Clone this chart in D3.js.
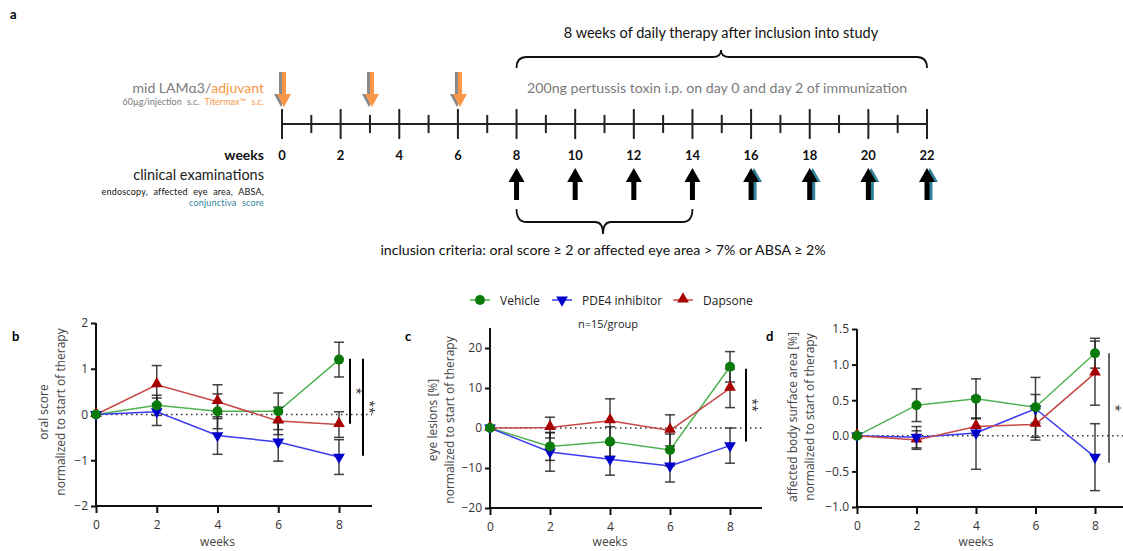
<!DOCTYPE html>
<html>
<head>
<meta charset="utf-8">
<script src="https://cdn.jsdelivr.net/npm/d3@7"></script>
<style>
  body { margin: 0; background: #fff; }
  svg { display: block; font-family: "Open Sans", sans-serif; }
  .tl { font-family: Lato, sans-serif; }
</style>
</head>
<body>
<div id="chart"></div>
<script>
// timeline (panel a)
var tlWeeks = d3.range(0, 23)
var tlLabels = [0, 2, 4, 6, 8, 10, 12, 14, 16, 18, 20, 22]
var immunWeeks = [0, 3, 6]
var examWeeks = [8, 10, 12, 14]
var examTealWeeks = [16, 18, 20, 22]

// panels b-d
var weeks = [0, 2, 4, 6, 8]
var groups = ["Vehicle", "PDE4 inhibitor", "Dapsone"]

var oralVehicle = [0, 0.2, 0.07, 0.07, 1.2]
var oralVehicleErr = [0, 0.22, 0.38, 0.4, 0.38]
var oralPde4 = [0, 0.06, -0.46, -0.6, -0.93]
var oralPde4Err = [0, 0.3, 0.41, 0.42, 0.38]
var oralDapsone = [0, 0.65, 0.28, -0.14, -0.22]
var oralDapsoneErr = [0, 0.42, 0.37, 0.3, 0.28]

var eyeVehicle = [0, -4.6, -3.4, -5.5, 15.3]
var eyeVehicleErr = [0, 3.5, 3.7, 4.0, 3.8]
var eyePde4 = [0, -6.0, -7.8, -9.5, -4.4]
var eyePde4Err = [0, 4.8, 4.0, 4.0, 4.4]
var eyeDapsone = [0, 0.1, 1.8, -0.6, 9.9]
var eyeDapsoneErr = [0, 2.6, 5.5, 3.9, 4.8]

var absaVehicle = [0, 0.43, 0.52, 0.40, 1.16]
var absaVehicleErr = [0, 0.23, 0.28, 0.42, 0.21]
var absaPde4 = [0, -0.02, 0.04, 0.38, -0.3]
var absaPde4Err = [0, 0.15, 0.51, 0.2, 0.47]
var absaDapsone = [0, -0.06, 0.13, 0.16, 0.88]
var absaDapsoneErr = [0, 0.13, 0.12, 0.22, 0.45]

var lineColors = ["#4fb24f", "#3b3bf0", "#c84848"]
var markColors = ["#0a7a0a", "#0000cc", "#a80000"]

var W = 1123, H = 551
var svg = d3.select("#chart").append("svg")
  .attr("width", W).attr("height", H)

// ---------- panel a ----------
var a = svg.append("g").attr("class", "tl")
var tx = d3.scaleLinear().domain([0, 22]).range([282, 927])
var axisY = 124

a.append("text").attr("x", 10).attr("y", 19).attr("font-weight", "bold")
  .attr("font-size", 13).text("a")

a.append("line").attr("x1", tx(0)).attr("x2", tx(22))
  .attr("y1", axisY).attr("y2", axisY)
  .attr("stroke", "#222").attr("stroke-width", 2)

a.selectAll(".tick").data(tlWeeks).enter().append("line")
  .attr("x1", d => tx(d)).attr("x2", d => tx(d))
  .attr("y1", d => d % 2 == 0 ? axisY - 15 : axisY - 9)
  .attr("y2", d => d % 2 == 0 ? axisY + 15 : axisY + 9)
  .attr("stroke", "#222").attr("stroke-width", 2)

a.selectAll(".wl").data(tlLabels).enter().append("text")
  .attr("x", d => tx(d)).attr("y", 160)
  .attr("text-anchor", "middle").attr("font-weight", "bold")
  .attr("font-size", 13).attr("fill", "#111").text(d => d)

a.append("text").attr("x", 264).attr("y", 160).attr("text-anchor", "end")
  .attr("font-weight", "bold").attr("font-size", 14).attr("fill", "#111").text("weeks")

// down arrows (immunization)
function downArrow(g, x, color) {
  g.append("path")
    .attr("d", "M" + (x - 2) + ",72 L" + (x + 2) + ",72 L" + (x + 2) + ",94 L" + (x + 7) + ",94 L" + x + ",107 L" + (x - 7) + ",94 L" + (x - 2) + ",94 Z")
    .attr("fill", color)
}
immunWeeks.forEach(w => {
  downArrow(a, tx(w) - 1, "#8a8a8a")
  downArrow(a, tx(w) + 2, "#f79646")
})
function upArrow(g, x, color) {
  g.append("path")
    .attr("d", "M" + (x - 2.5) + ",200 L" + (x + 2.5) + ",200 L" + (x + 2.5) + ",182 L" + (x + 8) + ",182 L" + x + ",168 L" + (x - 8) + ",182 L" + (x - 2.5) + ",182 Z")
    .attr("fill", color)
}
examTealWeeks.forEach(w => upArrow(a, tx(w) + 3, "#31849b"))
examWeeks.concat(examTealWeeks).forEach(w => upArrow(a, tx(w), "#000"))

var t1 = a.append("text").attr("x", 264).attr("y", 93).attr("text-anchor", "end").attr("font-size", 14)
t1.append("tspan").attr("fill", "#7a7a7a").text("mid LAMα3/")
t1.append("tspan").attr("fill", "#f79646").text("adjuvant")
var t2 = a.append("text").attr("x", 264).attr("y", 105).attr("text-anchor", "end")
  .attr("font-size", 9).attr("word-spacing", 3)
t2.append("tspan").attr("fill", "#7a7a7a").text("60µg/injection s.c. ")
t2.append("tspan").attr("fill", "#f79646").text("Titermax™ s.c.")

a.append("text").attr("x", 264).attr("y", 180).attr("text-anchor", "end")
  .attr("font-size", 14.5).attr("fill", "#222").text("clinical examinations")
a.append("text").attr("x", 264).attr("y", 195).attr("text-anchor", "end")
  .attr("font-size", 9).attr("word-spacing", 3).attr("letter-spacing", 0.2)
  .attr("fill", "#111").text("endoscopy,  affected eye area, ABSA,")
a.append("text").attr("x", 264).attr("y", 206).attr("text-anchor", "end")
  .attr("font-size", 9).attr("word-spacing", 3).attr("letter-spacing", 0.2)
  .attr("fill", "#31849b").text("conjunctiva score")

// braces
var bx0 = tx(8), bx1 = tx(22), bmid = 721
a.append("path")
  .attr("d", "M" + bx0 + ",68 Q" + bx0 + ",57 " + (bx0 + 10) + ",57 L" + (bmid - 8) + ",57 Q" + bmid + ",57 " + bmid + ",50 Q" + bmid + ",57 " + (bmid + 8) + ",57 L" + (bx1 - 10) + ",57 Q" + bx1 + ",57 " + bx1 + ",68")
  .attr("fill", "none").attr("stroke", "#111").attr("stroke-width", 1.8)
a.append("text").attr("x", bmid).attr("y", 38).attr("text-anchor", "middle")
  .attr("font-size", 14.5).attr("fill", "#111").text("8 weeks of daily therapy after inclusion into study")
a.append("text").attr("x", 527).attr("y", 93).attr("font-size", 14.2)
  .attr("fill", "#7a7a7a").text("200ng pertussis toxin i.p. on day 0 and day 2 of immunization")

var cx0 = tx(8), cx1 = tx(14), cmid = 603
a.append("path")
  .attr("d", "M" + cx0 + ",209 Q" + cx0 + ",222 " + (cx0 + 10) + ",222 L" + (cmid - 8) + ",222 Q" + cmid + ",222 " + cmid + ",234 Q" + cmid + ",222 " + (cmid + 8) + ",222 L" + (cx1 - 10) + ",222 Q" + cx1 + ",222 " + cx1 + ",209")
  .attr("fill", "none").attr("stroke", "#111").attr("stroke-width", 1.8)
a.append("text").attr("x", cmid).attr("y", 255).attr("text-anchor", "middle")
  .attr("font-size", 14.2).attr("fill", "#111")
  .text("inclusion criteria: oral score ≥ 2 or affected eye area > 7% or ABSA ≥ 2%")

// ---------- legend ----------
var legX = [480, 562, 683]
var leg = svg.append("g")
groups.forEach((gname, i) => {
  leg.append("line").attr("x1", legX[i] - 10).attr("x2", legX[i] + 10)
    .attr("y1", 300).attr("y2", 300).attr("stroke", lineColors[i]).attr("stroke-width", 1.5)
  marker(leg, i, legX[i], 300)
  leg.append("text").attr("x", legX[i] + 20).attr("y", 304.5).attr("font-size", 12)
    .attr("fill", "#222").text(gname)
})
svg.append("text").attr("x", 608).attr("y", 328).attr("text-anchor", "middle")
  .attr("font-size", 11).attr("fill", "#222").text("n=15/group")

function marker(g, i, x, y) {
  if (i == 0) {
    g.append("circle").attr("cx", x).attr("cy", y).attr("r", 5).attr("fill", markColors[0])
  } else if (i == 1) {
    g.append("path").attr("d", d3.symbol().type(d3.symbolTriangle).size(60))
      .attr("transform", "translate(" + x + "," + y + ") rotate(180)").attr("fill", markColors[1])
  } else {
    g.append("path").attr("d", d3.symbol().type(d3.symbolTriangle).size(60))
      .attr("transform", "translate(" + x + "," + (y - 1) + ")").attr("fill", markColors[2])
  }
}

// ---------- panels ----------
function panel(opt) {
  var g = svg.append("g")
  var x = d3.scaleLinear().domain([0, 8]).range([opt.x0, opt.x1])
  var y = d3.scaleLinear().domain(opt.domain).range([opt.yb, opt.yt])

  g.append("text").attr("x", opt.letterX).attr("y", 341).attr("font-weight", "bold")
    .attr("font-size", 13).attr("font-family", "Lato, sans-serif").text(opt.letter)

  // dotted zero line
  g.append("line").attr("x1", opt.x0).attr("x2", opt.axisEnd)
    .attr("y1", y(0)).attr("y2", y(0))
    .attr("stroke", "#333").attr("stroke-width", 1.5).attr("stroke-dasharray", "1.5,3.5")

  var ya = g.append("g").attr("transform", "translate(" + opt.x0 + ",0)")
    .call(d3.axisLeft(y).tickValues(opt.ticks).tickFormat(opt.fmt).tickSizeOuter(0).tickSize(5))
  ya.select(".domain").attr("stroke", "#111").attr("stroke-width", 2)
    .attr("d", "M0," + y(opt.yTop) + "V" + opt.yb)
  ya.selectAll(".tick line").attr("stroke", "#111").attr("stroke-width", 2)
  ya.selectAll(".tick text").attr("font-size", 12).attr("fill", "#333").attr("x", -8)
    .attr("font-family", "Open Sans, sans-serif")

  var xa = g.append("g").attr("transform", "translate(0," + opt.yb + ")")
    .call(d3.axisBottom(x).tickValues(weeks).tickSizeOuter(0).tickSize(7))
  xa.select(".domain").attr("stroke", "#111").attr("stroke-width", 2)
    .attr("d", "M" + (opt.x0 - 1) + ",0H" + opt.axisEnd)
  xa.selectAll(".tick line").attr("stroke", "#111").attr("stroke-width", 2)
  xa.selectAll(".tick text").attr("font-size", 12).attr("fill", "#333").attr("y", 14)
    .attr("font-family", "Open Sans, sans-serif")

  g.append("text").attr("x", (opt.x0 + opt.x1) / 2).attr("y", 546).attr("text-anchor", "middle")
    .attr("font-size", 12).attr("fill", "#444").text("weeks")

  var ly = opt.labelY
  g.append("text").attr("transform", "translate(" + opt.lab1X + "," + ly + ") rotate(-90)")
    .attr("text-anchor", "middle").attr("font-size", 12).attr("fill", "#444").text(opt.label1)
  g.append("text").attr("transform", "translate(" + opt.lab2X + "," + ly + ") rotate(-90)")
    .attr("text-anchor", "middle").attr("font-size", 12).attr("fill", "#444").text(opt.label2)

  var line = d3.line().x((d, i) => x(weeks[i])).y(d => y(d))
  opt.series.forEach((s, i) => {
    g.append("path").datum(s.v).attr("d", line).attr("fill", "none")
      .attr("stroke", lineColors[i]).attr("stroke-width", 1.5)
  })
  opt.series.forEach((s, i) => {
    s.v.forEach((v, j) => {
      var e = s.e[j]
      if (!e) return
      var xx = x(weeks[j])
      g.append("line").attr("x1", xx).attr("x2", xx).attr("y1", y(v - e)).attr("y2", y(v + e))
        .attr("stroke", "#222").attr("stroke-width", 1.5).attr("stroke-opacity", 0.85)
      ;[v - e, v + e].forEach(c => {
        g.append("line").attr("x1", xx - 5).attr("x2", xx + 5).attr("y1", y(c)).attr("y2", y(c))
          .attr("stroke", "#222").attr("stroke-width", 1.5).attr("stroke-opacity", 0.85)
      })
    })
  })
  // draw Dapsone first so Vehicle circles sit on top
  ;[2, 1, 0].forEach(i => {
    opt.series[i].v.forEach((v, j) => marker(g, i, x(weeks[j]), y(v)))
  })

  opt.sig.forEach(sg => {
    g.append("line").attr("x1", sg.x).attr("x2", sg.x).attr("y1", y(sg.from)).attr("y2", y(sg.to))
      .attr("stroke", "#000").attr("stroke-width", sg.w)
    g.append("text").attr("transform", "translate(" + (sg.x + 2) + "," + ((y(sg.from) + y(sg.to)) / 2) + ") rotate(90)")
      .attr("text-anchor", "middle").attr("font-size", 12).attr("fill", "#222").text(sg.t)
  })
}

panel({
  letter: "b", letterX: 12, x0: 96, x1: 339, yb: 506, yt: 323, axisEnd: 372,
  domain: [-2, 2], yTop: 2, ticks: [-2, -1, 0, 1, 2], fmt: d3.format("d"),
  label1: "oral score", label2: "normalized to start of therapy", lab1X: 48, lab2X: 65, labelY: 412,
  series: [
    {v: oralVehicle, e: oralVehicleErr},
    {v: oralPde4, e: oralPde4Err},
    {v: oralDapsone, e: oralDapsoneErr}
  ],
  sig: [{x: 350, from: 1.22, to: -0.2, t: "*", w: 2}, {x: 363, from: 1.22, to: -0.9, t: "**", w: 2}]
})

panel({
  letter: "c", letterX: 405, x0: 490, x1: 730, yb: 508, yt: 348, axisEnd: 762,
  domain: [-20, 20], yTop: 25, ticks: [-20, -10, 0, 10, 20], fmt: d3.format("d"),
  label1: "eye lesions [%]", label2: "normalized to start of therapy", lab1X: 437, lab2X: 454, labelY: 420,
  series: [
    {v: eyeVehicle, e: eyeVehicleErr},
    {v: eyePde4, e: eyePde4Err},
    {v: eyeDapsone, e: eyeDapsoneErr}
  ],
  sig: [{x: 746, from: 14.8, to: -3.4, t: "**", w: 2}]
})

panel({
  letter: "d", letterX: 766, x0: 857, x1: 1095, yb: 507, yt: 329, axisEnd: 1123,
  domain: [-1, 1.5], yTop: 1.5, ticks: [-1, -0.5, 0, 0.5, 1, 1.5], fmt: d3.format(".1f"),
  label1: "affected body surface area [%]", label2: "normalized to start of therapy", lab1X: 797, lab2X: 814, labelY: 417,
  series: [
    {v: absaVehicle, e: absaVehicleErr},
    {v: absaPde4, e: absaPde4Err},
    {v: absaDapsone, e: absaDapsoneErr}
  ],
  sig: [{x: 1109, from: 1.16, to: -0.38, t: "*", w: 1.2}]
})
</script>
</body>
</html>
